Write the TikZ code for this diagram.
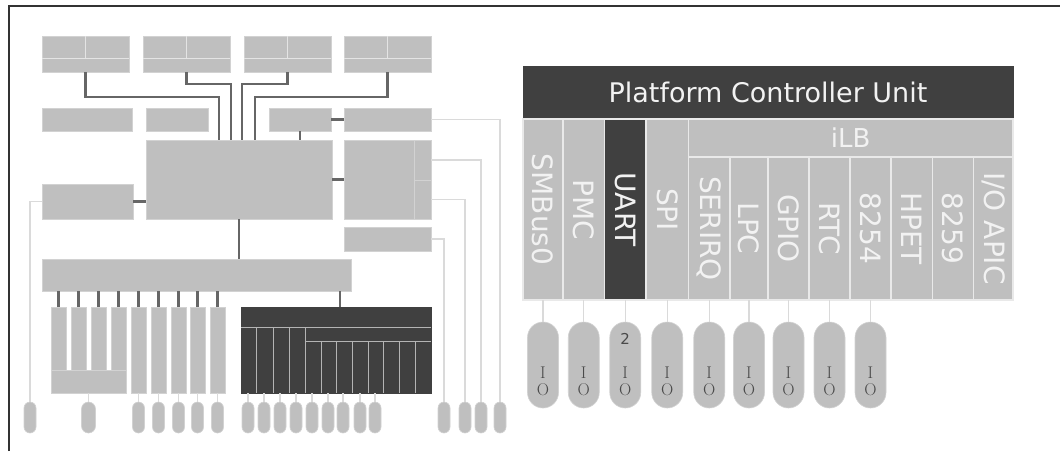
\documentclass[tikz,border=0pt]{standalone}
\usepackage{fontspec}
\newfontfamily\djsans{DejaVu Sans}
\usetikzlibrary{calc}
\definecolor{boxg}{HTML}{BFBFBF}
\definecolor{boxe}{HTML}{D2D2D2}
\definecolor{darkg}{HTML}{404040}
\definecolor{conng}{HTML}{666666}
\definecolor{litec}{HTML}{DADADA}
\definecolor{sepc}{HTML}{E9E9E9}
\definecolor{txtw}{HTML}{F2F2F2}
\definecolor{txtd}{HTML}{4A4A4A}
\definecolor{framec}{HTML}{333333}
\definecolor{kline}{HTML}{B4B4B4}
\tikzset{
 box/.style={rectangle, fill=boxg, draw=boxe, line width=0.8pt, inner sep=0pt, outer sep=0pt, anchor=north west},
 dbox/.style={box, fill=darkg, draw=darkg},
 col/.style={box, draw=sepc, line width=1.8pt},
 dcol/.style={col, fill=darkg},
 conn/.style={draw=conng, line width=2.4pt},
 lite/.style={draw=litec, line width=1.3pt},
 div/.style={draw=boxe!60!white, line width=1pt},
 kdiv/.style={draw=kline, line width=0.9pt},
 pill/.style={rectangle, rounded corners=6pt, fill=boxg, draw=boxe, line width=0.6pt, inner sep=0pt, outer sep=0pt, anchor=north, minimum width=12pt, minimum height=31pt},
 iopill/.style={pill, rounded corners=15.5pt, minimum width=31pt, minimum height=86pt},
 ctext/.style={text=txtw, font=\djsans\fontsize{28}{30}\selectfont, rotate=-90, inner sep=0pt},
 iol/.style={text=txtd, font=\fontsize{17}{18}\selectfont, inner sep=0pt},
}
\newcommand\bx[6][box]{\node[#1,minimum width=#5pt,minimum height=#6pt] (#2) at (#3,#4) {};}
\begin{document}
\begin{tikzpicture}[x=1pt,y=-1pt]
\useasboundingbox (0,0) rectangle (1060,451);
\fill[white] (0,0) rectangle (1060,451);
\draw[framec, line width=2.5pt] (9,451) -- (9,6) -- (1060,6);

% ---------- left block diagram ----------
\foreach \n/\x in {t1/42,t2/143,t3/244,t4/344}{
  \bx{\n}{\x}{36}{87}{36}
  \draw[div] ($(\n.north west)+(0,22)$) -- ($(\n.north east)+(0,22)$);
  \draw[div] (\n.north) -- ++(0,22);
}
\bx{a}{42}{108}{90}{23}
\bx{b}{146}{108}{62}{23}
\bx{c}{269}{108}{62}{23}
\bx{d}{344}{108}{87}{23}
\bx{m}{146}{140}{186}{79}
\bx{e}{42}{184}{91}{35}
\bx{f}{344}{140}{70}{79}
\bx{f1}{414}{140}{17}{40}
\bx{f2}{414}{180}{17}{39}
\bx{g}{344}{227}{87}{24}
\bx{h}{42}{259}{309}{32}

\coordinate (k1) at (219,97);
\coordinate (k2) at (231,84);
\coordinate (k3) at (242,84);
\coordinate (k4) at (255,97);
\draw[conn] (t1.south) |- (k1) -- (k1 |- m.north);
\draw[conn] (t2.south) |- (k2) -- (k2 |- m.north);
\draw[conn] (t3.south) |- (k3) -- (k3 |- m.north);
\draw[conn] (t4.south) |- (k4) -- (k4 |- m.north);
\draw[conn] (c.east) -- (d.west);
\draw[conn] (c.south) -- (c.south |- m.north);
\draw[conn] (e.east) -- (e.east -| m.west);
\draw[conn] (m.east) -- (m.east -| f.west);
\draw[conn] (m.south) -- (m.south |- h.north);

% bars under h
\bx{b1}{51}{307}{15}{63}
\bx{b2}{71}{307}{15}{63}
\bx{b3}{91}{307}{15}{63}
\bx{b4}{111}{307}{15}{63}
\bx{bb}{51}{370}{75}{23}
\bx{b5}{131}{307}{15}{86}
\bx{b6}{151}{307}{15}{86}
\bx{b7}{171}{307}{15}{86}
\bx{b8}{190}{307}{15}{86}
\bx{b9}{210}{307}{15}{86}
\foreach \i in {1,...,9}{\draw[conn] (b\i.north) -- (b\i.north |- h.south);}

% dark block
\bx[dbox]{k}{241}{307}{190}{86}
\coordinate (kc) at (340,0);
\draw[conn] (kc |- h.south) -- (kc |- k.north);
\draw[kdiv] (241,327) -- (431,327);
\draw[kdiv] (305,341) -- (431,341);
\foreach \x in {256,273,289,305}{\draw[kdiv] (\x,327) -- (\x,393);}
\foreach \x in {321,336,352,368,383,399,415}{\draw[kdiv] (\x,341) -- (\x,393);}

% small pills
\coordinate (pl) at (0,402);
\node[pill] (p1) at (30,402) {};
\draw[lite] (e.west) -| (p1.north);
\node[pill, minimum width=14pt, rounded corners=7pt] (p2) at (bb.south |- pl) {};
\draw[lite] (bb.south) -- (p2.north);
\foreach \i in {5,...,9}{
  \node[pill] (q\i) at (b\i.south |- pl) {};
  \draw[lite] (b\i.south) -- (q\i.north);
}
\foreach \x [count=\i] in {248,264,280,296,312,328,343,360,375}{
  \node[pill] (r\i) at (\x,402) {};
  \draw[lite] (r\i.north |- k.south) -- (r\i.north);
}
\node[pill] (s1) at (444,402) {};
\node[pill] (s2) at (465,402) {};
\node[pill] (s3) at (481,402) {};
\node[pill] (s4) at (500,402) {};
\draw[lite] (g.east) -| (s1.north);
\draw[lite] (f2.east) -| (s2.north);
\draw[lite] (f1.east) -| (s3.north);
\draw[lite] (d.east) -| (s4.north);

% ---------- Platform Controller Unit ----------
\node[dbox, minimum width=490pt, minimum height=52pt, text=txtw, font=\djsans\fontsize{27}{30}\selectfont] (pcu) at (523,66) {Platform Controller Unit};
\bx[col]{c1}{523}{119}{40}{181}
\bx[col]{c2}{563}{119}{41.5}{181}
\bx[dcol]{c3}{604.5}{119}{41.5}{181}
\bx[col]{c4}{646}{119}{42.5}{181}
\node[col, minimum width=324.5pt, minimum height=38pt, text=txtw, font=\djsans\fontsize{26}{28}\selectfont] (ilb) at (688.5,119) {iLB};
\bx[col]{u1}{688.5}{157}{41.5}{143}
\bx[col]{u2}{730}{157}{38}{143}
\bx[col]{u3}{768}{157}{41}{143}
\bx[col]{u4}{809}{157}{41}{143}
\bx[col]{u5}{850}{157}{41}{143}
\bx[col]{u6}{891}{157}{41.5}{143}
\bx[col]{u7}{932.5}{157}{41}{143}
\bx[col]{u8}{973.5}{157}{39.5}{143}
\node[ctext] (c1t) at (c1.center) {SMBus0};
\node[ctext] (c2t) at (c2.center) {PMC};
\node[ctext] (c3t) at (c3.center) {UART};
\node[ctext] (c4t) at (c4.center) {SPI};
\node[ctext] (u1t) at (u1.center) {SERIRQ};
\node[ctext] (u2t) at (u2.center) {LPC};
\node[ctext] (u3t) at (u3.center) {GPIO};
\node[ctext] (u4t) at (u4.center) {RTC};
\node[ctext] (u5t) at (u5.center) {8254};
\node[ctext] (u6t) at (u6.center) {HPET};
\node[ctext] (u7t) at (u7.center) {8259};
\node[ctext] (u8t) at (u8.center) {I/O APIC};

\foreach \cc [count=\i] in {c1,c2,c3,c4,u1,u2,u3,u4,u5}{
  \node[iopill] (io\i) at ($(\cc.south)+(0,22)$) {};
  \draw[lite] (\cc.south) -- (io\i.north);
  \node[iol] (ioi\i) at ($(io\i.north)+(0,51)$) {I};
  \node[iol] (ioo\i) at ($(io\i.north)+(0,68)$) {O};
}
\node[iol, font=\djsans\fontsize{15}{16}\selectfont] (two) at ($(io3.north)+(0,17)$) {2};
\end{tikzpicture}
\end{document}
